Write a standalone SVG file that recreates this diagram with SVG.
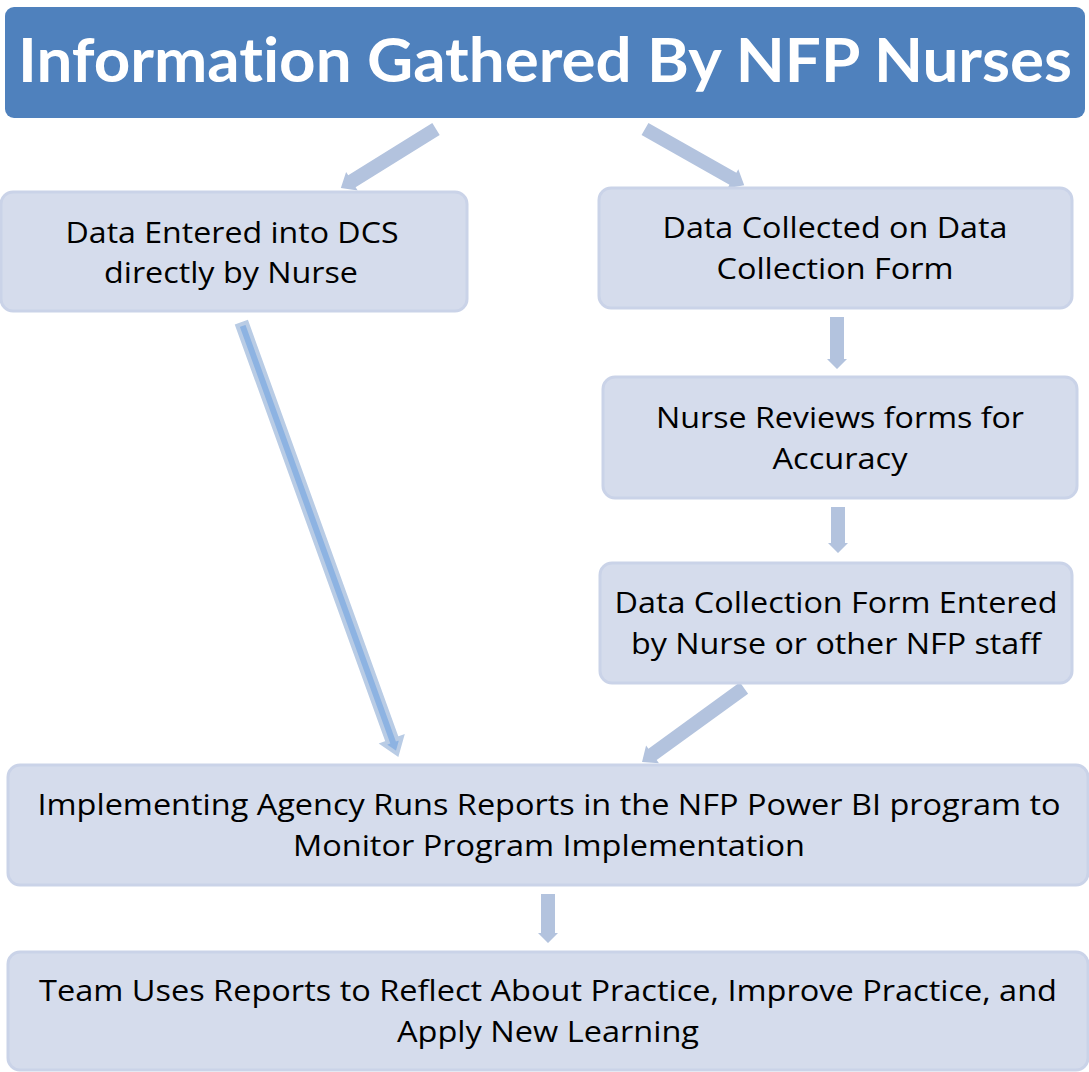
<svg xmlns="http://www.w3.org/2000/svg" width="1089" height="1072" viewBox="0 0 1089 1072">
  <style>
    .box { fill: #d5dcec; stroke: #cad3e8; stroke-width: 3; }
    .title-box { fill: #4f81bd; }
    .title { font-family: Lato, "Open Sans", "Liberation Sans", sans-serif; font-weight: 700; font-size: 62px; fill: #ffffff; text-anchor: middle; font-variant-ligatures: none; }
    .lbl { font-family: "Open Sans", "Liberation Sans", sans-serif; font-size: 29px; fill: #000000; text-anchor: middle; }
    .arw { fill: #b3c3de; }
    .arw-strong { fill: #8db3e2; stroke: #b9cce5; stroke-width: 4; stroke-linejoin: miter; }
  </style>

  <rect width="1089" height="1072" fill="#ffffff"/>

  <g id="title">
    <rect class="title-box" x="5" y="7" width="1080" height="111" rx="9"/>
    <text class="title" x="545" y="82" textLength="1054" lengthAdjust="spacingAndGlyphs">Information Gathered By NFP Nurses</text>
  </g>

  <g id="connectors">
    <!-- title to the two entry paths -->
    <polygon class="arw" points="0,-7 99,-7 99,-11 112,0 99,11 99,7 0,7" transform="translate(436,129) rotate(148.16)"/>
    <polygon class="arw" points="0,-7 101,-7 101,-11 114,0 101,11 101,7 0,7" transform="translate(645,129) rotate(29.5)"/>
    <!-- direct entry to reports -->
    <polygon class="arw-strong" points="0,-5 443,-5 443,-10 457,0 443,10 443,5 0,5" transform="translate(242,324) rotate(70.15)"/>
    <!-- paper form chain -->
    <polygon class="arw" points="0,-7 42,-7 42,-10 52,0 42,10 42,7 0,7" transform="translate(837,317) rotate(90)"/>
    <polygon class="arw" points="0,-7 36,-7 36,-10 46,0 36,10 36,7 0,7" transform="translate(838,507) rotate(90)"/>
    <polygon class="arw" points="0,-7 113,-7 113,-11 126,0 113,11 113,7 0,7" transform="translate(744,688) rotate(144.04)"/>
    <!-- reports to team -->
    <polygon class="arw" points="0,-7 39,-7 39,-10 49,0 39,10 39,7 0,7" transform="translate(548,894) rotate(90)"/>
  </g>

  <g id="dcs-entry">
    <rect class="box" x="1" y="192" width="466" height="119" rx="12"/>
    <text class="lbl" x="232" y="243" textLength="333" lengthAdjust="spacingAndGlyphs">Data Entered into DCS</text>
    <text class="lbl" x="231" y="283" textLength="254" lengthAdjust="spacingAndGlyphs">directly by Nurse</text>
  </g>

  <g id="form-collected">
    <rect class="box" x="599" y="188" width="473" height="120" rx="12"/>
    <text class="lbl" x="835" y="238" textLength="345" lengthAdjust="spacingAndGlyphs">Data Collected on Data</text>
    <text class="lbl" x="835" y="279" textLength="237" lengthAdjust="spacingAndGlyphs">Collection Form</text>
  </g>

  <g id="nurse-review">
    <rect class="box" x="603" y="377" width="474" height="121" rx="12"/>
    <text class="lbl" x="840" y="428" textLength="368" lengthAdjust="spacingAndGlyphs">Nurse Reviews forms for</text>
    <text class="lbl" x="840" y="469" textLength="135" lengthAdjust="spacingAndGlyphs">Accuracy</text>
  </g>

  <g id="form-entered">
    <rect class="box" x="600" y="563" width="472" height="120" rx="12"/>
    <text class="lbl" x="836" y="613" textLength="443" lengthAdjust="spacingAndGlyphs">Data Collection Form Entered</text>
    <text class="lbl" x="836" y="654" textLength="410" lengthAdjust="spacingAndGlyphs">by Nurse or other NFP staff</text>
  </g>

  <g id="agency-reports">
    <rect class="box" x="8" y="765" width="1080" height="120" rx="12"/>
    <text class="lbl" x="549" y="815" textLength="1023" lengthAdjust="spacingAndGlyphs">Implementing Agency Runs Reports in the NFP Power BI program to</text>
    <text class="lbl" x="549" y="856" textLength="512" lengthAdjust="spacingAndGlyphs">Monitor Program Implementation</text>
  </g>

  <g id="team-reflection">
    <rect class="box" x="8" y="952" width="1080" height="118" rx="12"/>
    <text class="lbl" x="548" y="1001" textLength="1018" lengthAdjust="spacingAndGlyphs">Team Uses Reports to Reflect About Practice, Improve Practice, and</text>
    <text class="lbl" x="548" y="1042" textLength="302" lengthAdjust="spacingAndGlyphs">Apply New Learning</text>
  </g>
</svg>
